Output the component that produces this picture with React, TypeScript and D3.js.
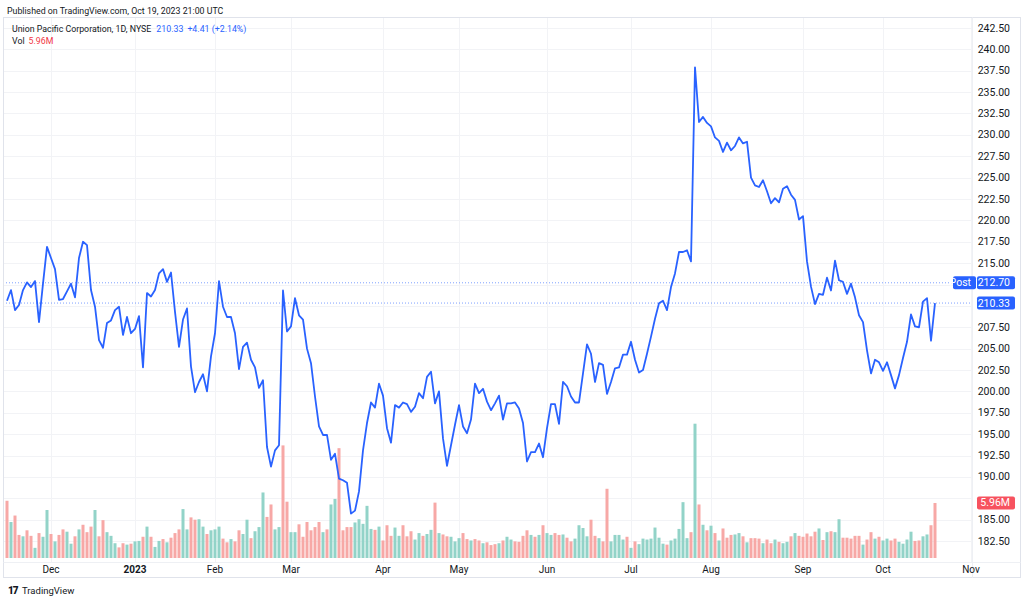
import React from 'react';
import * as d3 from 'd3';

// daily closes, Nov 15 2022 .. Oct 19 2023
const closes = [
  210.6, 211.85, 209.5, 210.1, 211.85, 212.75, 212.2, 212.9, 208.1, 212.6,
  216.9, 215.6, 214.3, 210.7, 210.8, 211.7, 212.6, 211.0, 215.6, 217.5,
  217.1, 211.85, 209.9, 206.0, 205.1, 208.0, 208.3, 209.5, 209.9, 206.6,
  208.7, 206.8, 207.3, 208.8, 202.8, 211.5, 211.1, 211.85, 213.8, 214.3,
  212.8, 213.9, 209.3, 205.2, 208.4, 209.7, 202.9, 199.9, 201.1, 202.0,
  200.0, 204.1, 206.8, 212.9, 209.9, 208.7, 208.7, 206.8, 202.6, 205.2,
  205.7, 203.7, 202.8, 200.4, 201.3, 193.5, 191.2, 193.1, 193.7, 211.8,
  207.0, 207.6, 210.9, 208.9, 208.4, 205.0, 203.3, 199.4, 195.9, 194.9,
  194.9, 192.0, 192.7, 189.8, 189.6, 189.3, 185.7, 186.05, 188.3, 193.1,
  196.3, 198.7, 198.1, 200.9, 199.5, 195.7, 194.0, 198.4, 198.1, 198.7,
  198.5, 197.6, 198.2, 199.8, 199.2, 201.7, 202.3, 198.6, 200.0, 194.5,
  191.3, 193.7, 196.1, 198.4, 195.9, 195.1, 196.7, 200.9, 199.8, 200.3,
  198.8, 197.8, 198.6, 199.5, 196.7, 198.6, 198.6, 198.7, 198.0, 196.3,
  191.8, 192.9, 192.9, 193.9, 192.3, 195.7, 198.5, 198.5, 196.2, 201.1,
  200.6, 199.4, 198.7, 198.7, 202.1, 205.5, 204.4, 201.1, 203.3, 203.1,
  199.7, 201.1, 202.7, 202.8, 204.3, 204.3, 205.8, 203.7, 202.2, 202.5,
  204.4, 206.4, 208.5, 210.3, 210.6, 209.5, 212.2, 213.8, 216.3, 216.3,
  216.5, 215.2, 237.9, 231.5, 232.1, 231.4, 231.0, 229.7, 229.3, 228.0,
  229.1, 228.2, 228.7, 229.7, 229.0, 229.2, 225.0, 224.1, 223.9, 224.7,
  223.4, 222.0, 222.6, 222.1, 223.7, 224.0, 223.0, 222.4, 220.1, 220.5,
  215.2, 212.25, 210.2, 211.4, 211.3, 213.3, 211.8, 215.3, 213.0, 212.8,
  211.4, 212.6, 211.0, 208.9, 208.1, 204.8, 202.1, 203.7, 203.4, 202.4,
  203.4, 201.9, 200.35, 201.9, 203.9, 205.8, 209.0, 207.6, 207.5, 210.5,
  210.9, 205.92, 210.33,
];

// daily volume in millions
const volumes = [
  6.2, 3.9, 4.6, 2.5, 2.35, 3.0, 2.4, 1.1, 2.7, 2.3,
  5.2, 2.6, 1.8, 2.5, 3.1, 2.85, 1.55, 2.35, 3.1, 3.6,
  2.8, 3.4, 5.2, 2.35, 4.1, 2.8, 2.4, 1.6, 1.15, 1.6,
  1.45, 1.55, 1.8, 1.85, 2.3, 3.4, 2.3, 1.2, 1.85, 2.05,
  1.7, 2.2, 2.7, 3.1, 5.3, 3.1, 4.4, 4.15, 4.2, 3.4,
  2.6, 3.0, 3.1, 3.4, 2.1, 1.7, 2.05, 1.8, 3.0, 2.6,
  4.15, 2.15, 2.9, 3.35, 7.1, 4.45, 5.8, 3.1, 3.35, 12.2,
  6.1, 2.8, 2.8, 3.65, 2.3, 3.9, 3.0, 3.35, 3.9, 2.8,
  3.1, 5.8, 6.4, 11.9, 3.0, 3.35, 3.35, 3.85, 4.2, 3.7,
  5.65, 3.15, 3.05, 3.4, 1.9, 3.55, 2.4, 3.3, 2.4, 3.55,
  2.35, 2.9, 2.0, 2.7, 2.4, 2.6, 3.05, 6.0, 2.7, 2.55,
  2.35, 2.3, 1.8, 2.15, 2.7, 2.05, 1.9, 2.05, 1.9, 1.6,
  1.7, 1.4, 1.5, 1.6, 1.9, 2.3, 2.0, 1.8, 1.75, 2.4,
  3.0, 2.5, 2.3, 2.5, 3.55, 2.7, 2.5, 2.7, 2.5, 2.55,
  2.2, 1.8, 2.1, 3.55, 3.25, 2.35, 4.15, 2.4, 2.15, 1.8,
  7.5, 1.8, 2.5, 2.5, 2.0, 2.3, 1.1, 1.8, 1.5, 2.1,
  2.0, 2.1, 3.3, 2.2, 1.55, 1.45, 1.9, 2.1, 3.15, 6.05,
  2.15, 2.8, 14.55, 5.8, 3.6, 3.0, 3.5, 2.7, 1.9, 3.2,
  2.2, 2.5, 2.55, 2.7, 2.35, 1.7, 2.15, 2.15, 2.1, 1.6,
  2.0, 1.6, 2.0, 1.75, 1.6, 1.75, 2.35, 2.7, 2.4, 2.3,
  2.65, 2.35, 2.85, 3.2, 1.95, 2.8, 2.9, 2.8, 4.2, 2.2,
  2.2, 2.1, 2.4, 2.4, 1.45, 2.0, 2.8, 2.1, 2.3, 1.9,
  2.1, 1.9, 2.1, 1.75, 1.55, 2.0, 2.85, 1.85, 1.9, 2.35,
  2.55, 3.55, 5.96,
];

// 1 = close above open (green bar), 0 = red bar
const volumeUp = [
  0, 1, 0, 0, 1, 0, 0, 1, 0, 1, 1, 0, 1, 0, 0, 1, 1, 0, 1, 0,
  0, 0, 1, 0, 0, 1, 1, 1, 0, 0, 1, 0, 1, 1, 0, 1, 0, 1, 1, 0,
  1, 0, 0, 0, 1, 1, 0, 0, 1, 1, 0, 1, 1, 1, 0, 0, 1, 0, 0, 1,
  1, 0, 1, 1, 1, 0, 0, 1, 1, 0, 0, 1, 1, 0, 0, 0, 0, 0, 0, 1,
  0, 1, 1, 0, 0, 0, 0, 1, 1, 1, 1, 1, 0, 1, 0, 0, 0, 1, 1, 0,
  0, 0, 1, 1, 0, 1, 1, 0, 1, 0, 0, 1, 1, 1, 0, 0, 1, 0, 0, 1,
  0, 0, 0, 1, 0, 1, 1, 0, 0, 0, 0, 1, 0, 1, 0, 1, 1, 0, 0, 1,
  0, 0, 1, 1, 1, 1, 0, 0, 1, 0, 0, 1, 1, 1, 1, 0, 1, 0, 1, 1,
  1, 1, 1, 1, 1, 0, 1, 1, 1, 1, 1, 0, 1, 0, 1, 0, 1, 0, 1, 0,
  0, 0, 1, 1, 0, 1, 0, 0, 0, 1, 0, 0, 1, 0, 1, 1, 0, 1, 0, 0,
  0, 0, 0, 1, 0, 1, 0, 1, 1, 0, 0, 0, 0, 0, 1, 0, 0, 1, 0, 1,
  1, 0, 0, 1, 1, 1, 1, 0, 0, 1, 1, 0, 0,
];

// NYSE closed days in the range
const holidays = [
  '2022-11-24', '2022-12-26', '2023-01-02', '2023-01-16', '2023-02-20',
  '2023-04-07', '2023-05-29', '2023-06-19', '2023-07-04', '2023-09-04',
];

const postPrice = 212.7;
const lastVolLabel = '5.96M';

const FONT = 'Roboto, "Noto Sans", sans-serif';
const TEXT = '#131722';
const BLUE = '#2962ff';
const RED_BAR = '#f7a8a6';
const GREEN_BAR = '#92d3c8';

const App: React.FC = () => {
  const W = 1024;
  const H = 601;
  const pane = { left: 3, right: 972, top: 17, bottom: 562 };

  const x = d3.scaleLinear().domain([0, closes.length - 1]).range([7, 935]);
  const y = d3.scaleLinear().domain([182.5, 242.5]).range([541, 28]);
  const yVol = d3.scaleLinear().domain([0, 10]).range([558, 558 - 92.3]);

  const dayKey = d3.timeFormat('%Y-%m-%d');
  const days = d3
    .timeDay.range(new Date(2022, 10, 15), new Date(2023, 10, 3))
    .filter(d => d.getDay() % 6 !== 0 && !holidays.includes(dayKey(d)));
  const monthTicks = days
    .map((d, i) => ({ d, i }))
    .filter(({ d, i }) => i > 0 && d.getMonth() !== days[i - 1].getMonth());

  const last = closes[closes.length - 1];
  const prev = closes[closes.length - 2];
  const change = last - prev;
  const pct = (change / prev) * 100;

  const priceTicks = d3.range(182.5, 242.51, 2.5);
  const boxYs = [y(postPrice), y(last), yVol(volumes[volumes.length - 1])];
  const visibleTicks = priceTicks.filter(t => boxYs.every(b => Math.abs(y(t) - b) > 9));

  const line = d3.line<number>().x((_, i) => x(i)).y(d => y(d));

  const box = (cy: number, label: string, fill: string, x0 = 977, w = 38) => (
    <g>
      <rect x={x0} y={cy - 6.5} width={w} height={13} rx={2} fill={fill} />
      <text x={x0 + w - 5} y={cy} textAnchor="end" dominantBaseline="central" fill="#fff" fontSize={10.5}>
        {label}
      </text>
    </g>
  );

  return (
    <svg
      width={W}
      height={H}
      style={{ position: 'fixed', left: 0, top: 0, background: '#fff' }}
      fontFamily={FONT}
    >
      <defs>
        <clipPath id="pane">
          <rect x={pane.left} y={pane.top} width={pane.right - pane.left} height={pane.bottom - pane.top} />
        </clipPath>
      </defs>

      <text x={7} y={10.5} dominantBaseline="central" fontSize={8.8} fill={TEXT}>
        Published on TradingView.com, Oct 19, 2023 21:00 UTC
      </text>

      {/* grid */}
      <g stroke="#f2f3f6" strokeWidth={1}>
        {priceTicks.map(t => (
          <line key={t} x1={pane.left} x2={pane.right} y1={Math.round(y(t)) + 0.5} y2={Math.round(y(t)) + 0.5} />
        ))}
        {monthTicks.map(({ i }) => (
          <line key={i} x1={Math.round(x(i)) + 0.5} x2={Math.round(x(i)) + 0.5} y1={pane.top} y2={pane.bottom} />
        ))}
      </g>

      <g clipPath="url(#pane)">
        {volumes.map((v, i) => (
          <rect
            key={i}
            x={x(i) - 1.5}
            y={yVol(v)}
            width={3}
            height={yVol(0) - yVol(v)}
            fill={volumeUp[i] ? GREEN_BAR : RED_BAR}
          />
        ))}
        <line x1={pane.left} x2={pane.right} y1={y(postPrice)} y2={y(postPrice)} stroke={BLUE} strokeOpacity={0.6} strokeDasharray="1 2" />
        <line x1={pane.left} x2={pane.right} y1={y(last)} y2={y(last)} stroke={BLUE} strokeOpacity={0.6} strokeDasharray="1 2" />
        <path d={line(closes) ?? ''} fill="none" stroke={BLUE} strokeWidth={1.8} strokeLinejoin="round" />
      </g>

      {/* frame and separators */}
      <rect x={3.5} y={17.5} width={1017} height={560} fill="none" stroke="#e0e3eb" />
      <line x1={pane.right + 0.5} x2={pane.right + 0.5} y1={17.5} y2={577.5} stroke="#eef0f4" />
      <line x1={3.5} x2={1020.5} y1={pane.bottom + 0.5} y2={pane.bottom + 0.5} stroke="#eef0f4" />

      {/* price axis */}
      {visibleTicks.map(t => (
        <text key={t} x={1010} y={y(t)} textAnchor="end" dominantBaseline="central" fontSize={10.5} fill={TEXT}>
          {t.toFixed(2)}
        </text>
      ))}
      {box(y(postPrice), 'Post', BLUE, 953, 23)}
      {box(y(postPrice), postPrice.toFixed(2), BLUE)}
      {box(y(last), last.toFixed(2), BLUE)}
      {box(yVol(volumes[volumes.length - 1]), lastVolLabel, '#f7525f')}

      {/* time axis */}
      {monthTicks.map(({ d, i }) => (
        <text
          key={i}
          x={x(i)}
          y={569.5}
          textAnchor="middle"
          dominantBaseline="central"
          fontSize={10}
          fontWeight={d.getMonth() === 0 ? 700 : 400}
          fill={TEXT}
        >
          {d.getMonth() === 0 ? d3.timeFormat('%Y')(d) : d3.timeFormat('%b')(d)}
        </text>
      ))}

      {/* legend */}
      <text x={12} y={28.5} dominantBaseline="central" fontSize={8.8} fill={TEXT}>
        Union Pacific Corporation, 1D, NYSE
        <tspan dx={5} fill={BLUE}>{last.toFixed(2)}</tspan>
        <tspan dx={4} fill={BLUE}>
          {`+${change.toFixed(2)} (+${pct.toFixed(2)}%)`}
        </tspan>
      </text>
      <text x={12} y={41} dominantBaseline="central" fontSize={8.8} fill={TEXT}>
        Vol
        <tspan dx={4} fill="#f23645">{lastVolLabel}</tspan>
      </text>

      {/* footer */}
      <text x={8} y={590} dominantBaseline="central" fontSize={10} fontWeight={900} fill={TEXT} letterSpacing={-1}>
        17
      </text>
      <text x={22} y={590} dominantBaseline="central" fontSize={9.5} fill={TEXT}>
        TradingView
      </text>
    </svg>
  );
};

export default App;
